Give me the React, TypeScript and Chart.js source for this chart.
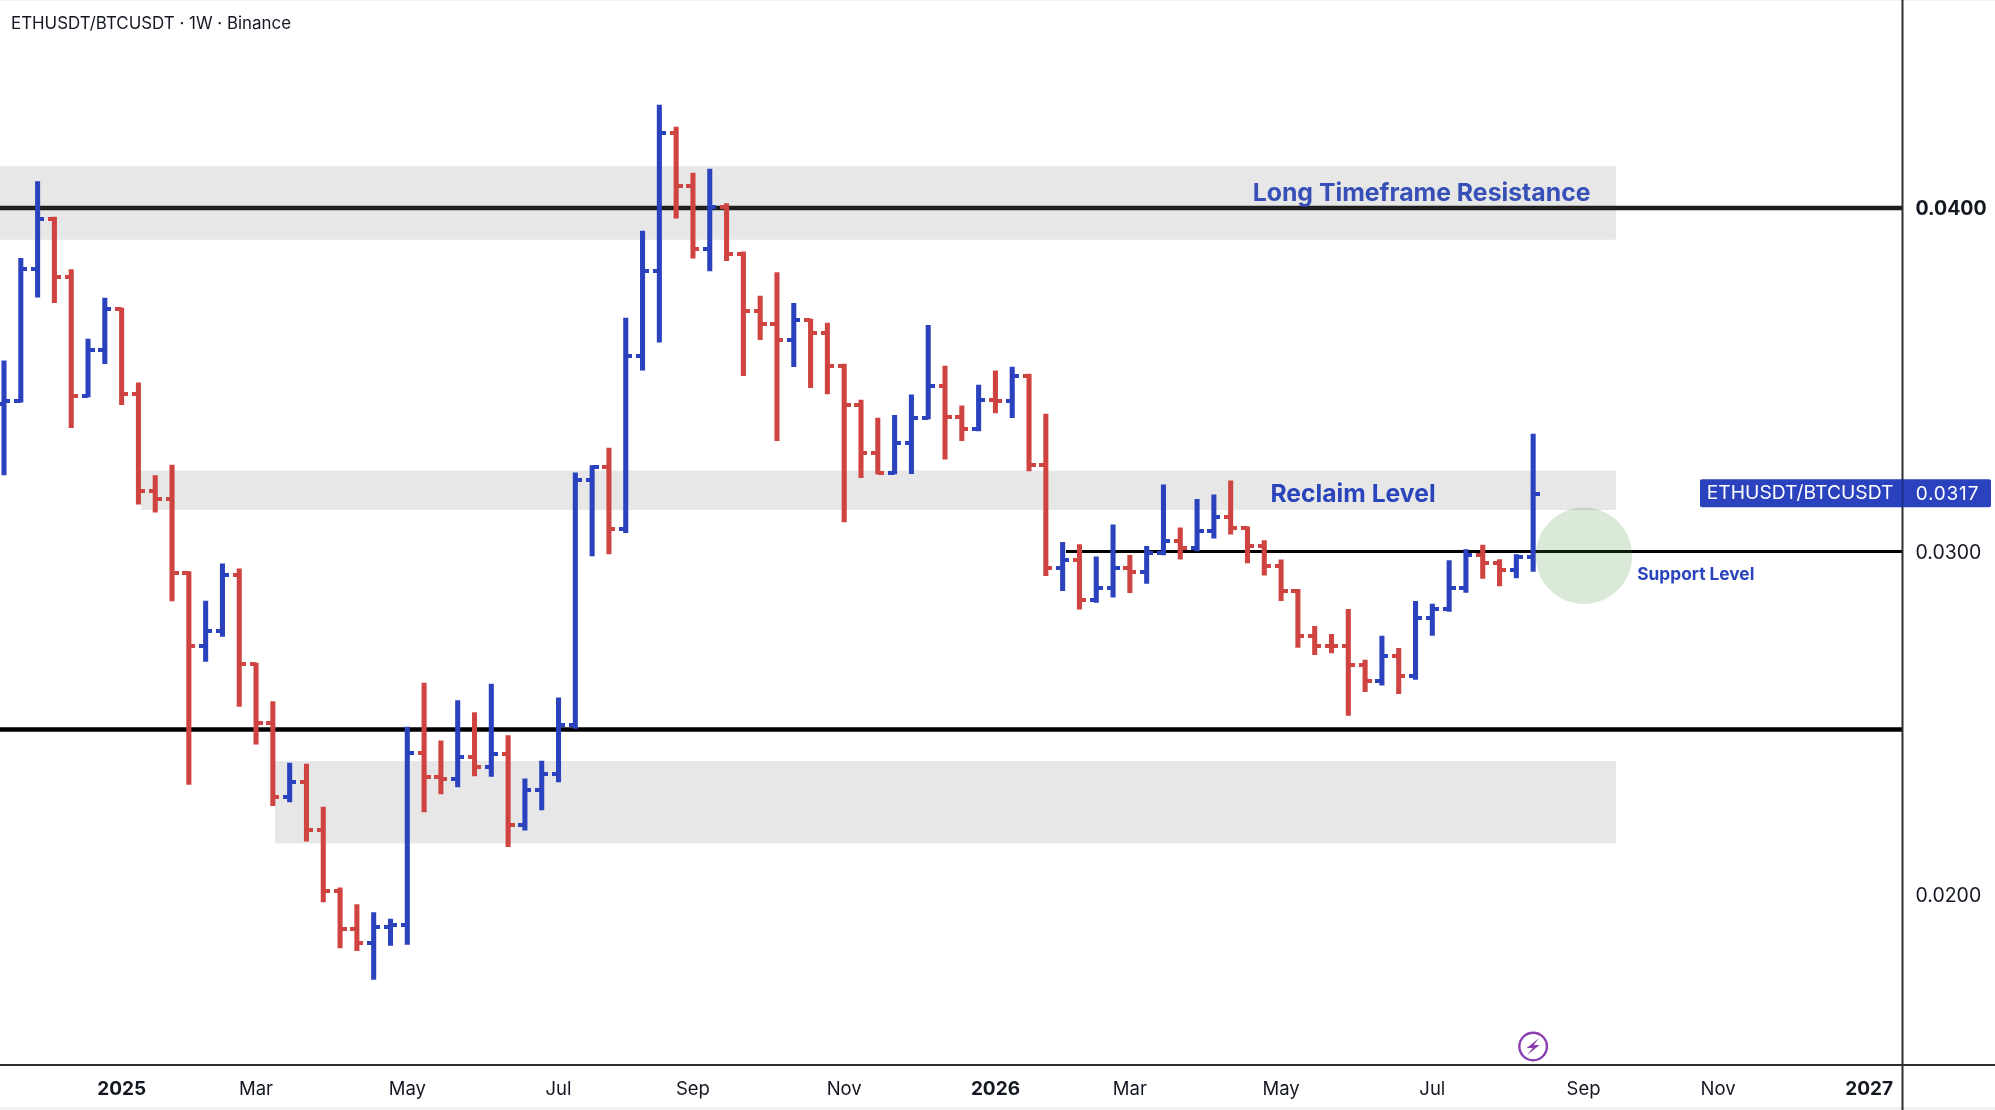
import React, { useEffect, useRef } from "react";
import { Chart, registerables } from "chart.js";

Chart.register(...registerables);

const WIDTH = 1995;
const HEIGHT = 1110;
const FONT = "Inter, 'Noto Sans', sans-serif";
const BLUE = "#2a42bd";
const RED = "#cf4440";

const opens = [
  0.03431, 0.03439, 0.03822, 0.03969, 0.03798, 0.03454, 0.03587, 0.03706, 0.0346, 0.03177,
  0.03153, 0.02937, 0.02724, 0.0277, 0.02932, 0.02672, 0.02502, 0.02284, 0.02329, 0.02189,
  0.02013, 0.01902, 0.01859, 0.01908, 0.01913, 0.02414, 0.02345, 0.02339, 0.02402, 0.02373,
  0.02411, 0.02203, 0.02306, 0.02351, 0.02494, 0.03207, 0.03247, 0.03065, 0.03569, 0.03817,
  0.0422, 0.04065, 0.03882, 0.04003, 0.03865, 0.037, 0.03662, 0.03617, 0.03673, 0.03635,
  0.0354, 0.03427, 0.03288, 0.03229, 0.03315, 0.0339, 0.03481, 0.03392, 0.03358, 0.03441,
  0.03437, 0.03511, 0.03252, 0.02951, 0.02974, 0.02859, 0.02895, 0.02951, 0.0294, 0.02995,
  0.0303, 0.03009, 0.03059, 0.031, 0.03068, 0.03015, 0.02958, 0.02886, 0.02753, 0.02726,
  0.02724, 0.02671, 0.02624, 0.02697, 0.02639, 0.02807, 0.02834, 0.02893, 0.0299, 0.02967,
  0.02946, 0.02984,
];
const highs = [
  0.03555, 0.03854, 0.04077, 0.03974, 0.03821, 0.03619, 0.03738, 0.03709, 0.03491, 0.03221,
  0.03252, 0.02942, 0.02856, 0.02964, 0.0295, 0.02675, 0.02563, 0.02384, 0.02381, 0.02256,
  0.02021, 0.01972, 0.01949, 0.0193, 0.02489, 0.02617, 0.02449, 0.02566, 0.02531, 0.02614,
  0.02464, 0.02338, 0.0239, 0.02574, 0.03229, 0.0325, 0.03301, 0.0368, 0.03933, 0.043,
  0.04236, 0.04102, 0.04114, 0.04013, 0.03873, 0.03744, 0.03812, 0.03723, 0.03677, 0.03665,
  0.03546, 0.03441, 0.03389, 0.03397, 0.03456, 0.03659, 0.0354, 0.03424, 0.03485, 0.03526,
  0.03537, 0.03517, 0.034, 0.03027, 0.0302, 0.02985, 0.03078, 0.02989, 0.03015, 0.03194,
  0.03069, 0.03152, 0.03165, 0.03206, 0.03072, 0.03032, 0.02976, 0.0289, 0.02782, 0.02759,
  0.02832, 0.02684, 0.02754, 0.02718, 0.02855, 0.02847, 0.02974, 0.03006, 0.03019, 0.02977,
  0.02991, 0.03342,
];
const lows = [
  0.03223, 0.03435, 0.03741, 0.03725, 0.03361, 0.0345, 0.03547, 0.03428, 0.03138, 0.03115,
  0.02856, 0.02322, 0.0268, 0.02753, 0.02549, 0.02439, 0.0226, 0.02271, 0.02157, 0.0198,
  0.01846, 0.01838, 0.01754, 0.01853, 0.01856, 0.02242, 0.02294, 0.02315, 0.02347, 0.02345,
  0.02141, 0.02189, 0.02248, 0.02329, 0.02485, 0.02987, 0.02993, 0.03055, 0.03528, 0.0361,
  0.03971, 0.03854, 0.03817, 0.03847, 0.03512, 0.03617, 0.03323, 0.03538, 0.03477, 0.03459,
  0.03086, 0.03215, 0.03226, 0.03226, 0.03227, 0.03386, 0.03269, 0.03323, 0.03351, 0.03404,
  0.0339, 0.03235, 0.0293, 0.02886, 0.02832, 0.02852, 0.02867, 0.0288, 0.02907, 0.0299,
  0.02978, 0.03002, 0.03039, 0.03051, 0.02967, 0.02931, 0.02857, 0.02721, 0.027, 0.02705,
  0.02523, 0.02592, 0.02611, 0.02586, 0.02628, 0.02756, 0.02826, 0.02881, 0.02922, 0.029,
  0.02923, 0.02942,
];
const closes = [
  0.03439, 0.03822, 0.03969, 0.03798, 0.03454, 0.03587, 0.03706, 0.0346, 0.03177, 0.03153,
  0.02937, 0.02724, 0.0277, 0.02932, 0.02672, 0.02502, 0.02284, 0.02329, 0.02189, 0.02013,
  0.01902, 0.01859, 0.01908, 0.01913, 0.02414, 0.02345, 0.02339, 0.02402, 0.02373, 0.02411,
  0.02203, 0.02306, 0.02351, 0.02494, 0.03207, 0.03247, 0.03065, 0.03569, 0.03817, 0.0422,
  0.04065, 0.03882, 0.04003, 0.03865, 0.037, 0.03662, 0.03617, 0.03673, 0.03635, 0.0354,
  0.03427, 0.03288, 0.03229, 0.03315, 0.0339, 0.03481, 0.03392, 0.03358, 0.03441, 0.03437,
  0.03511, 0.03252, 0.02951, 0.02974, 0.02859, 0.02895, 0.02951, 0.0294, 0.02995, 0.0303,
  0.03009, 0.03059, 0.031, 0.03068, 0.03015, 0.02958, 0.02886, 0.02753, 0.02726, 0.02724,
  0.02671, 0.02624, 0.02697, 0.02639, 0.02807, 0.02834, 0.02893, 0.0299, 0.02967, 0.02946,
  0.02984, 0.03168,
];

const xTickIndexes = [7, 15, 24, 33, 41, 50, 59, 67, 76, 85, 94, 102, 111];
const xTickLabels = ["2025", "Mar", "May", "Jul", "Sep", "Nov", "2026", "Mar", "May", "Jul", "Sep", "Nov", "2027"];
const yTickValues = [0.04, 0.03, 0.02];
const yTickLabels = ["0.0400", "0.0300", "0.0200"];
const lastPrice = 0.0317;

const X_MIN = -0.238;
const X_MAX = 112.98;
const Y_MIN = 0.01505;
const Y_MAX = 0.04606;

const zoneStarts = [X_MIN, 8.15, 16.13];
const zoneEnd = 95.93;
const zoneTops = [0.04122, 0.03236, 0.0239];
const zoneBottoms = [0.03908, 0.03121, 0.0215];

const tickImage = (color: string, side: "left" | "right") => {
  const c = document.createElement("canvas");
  c.width = 13;
  c.height = 4;
  const g = c.getContext("2d")!;
  g.fillStyle = color;
  g.fillRect(side === "left" ? 0 : 6.5, 0, 6.5, 4);
  return c;
};

const zonesPlugin = {
  id: "zones",
  beforeDatasetsDraw(chart: any) {
    const { ctx, scales } = chart;
    const { x, y } = scales;
    ctx.save();
    ctx.fillStyle = "#e7e7e7";
    zoneStarts.forEach((s, i) => {
      const x0 = x.getPixelForValue(s);
      const x1 = x.getPixelForValue(zoneEnd);
      const y0 = y.getPixelForValue(zoneTops[i]);
      const y1 = y.getPixelForValue(zoneBottoms[i]);
      ctx.fillRect(x0, y0, x1 - x0, y1 - y0);
    });
    ctx.restore();
  },
};

const overlayPlugin = {
  id: "overlay",
  afterDraw(chart: any) {
    const { ctx, scales, chartArea } = chart;
    const { x, y } = scales;
    ctx.save();

    // faint edge rows
    ctx.fillStyle = "#f1f1f1";
    ctx.fillRect(0, 0, WIDTH, 1);
    ctx.fillRect(0, HEIGHT - 3, WIDTH, 3);

    // axis frame
    ctx.fillStyle = "#2e2e2e";
    ctx.fillRect(0, chartArea.bottom - 1, WIDTH, 2);
    ctx.fillRect(chartArea.right - 1, 0, 2, HEIGHT);

    ctx.textBaseline = "alphabetic";
    ctx.textAlign = "left";

    // header
    ctx.fillStyle = "#131722";
    ctx.font = `400 16.9px ${FONT}`;
    ctx.fillText("ETHUSDT/BTCUSDT · 1W · Binance", 11, 28.5);

    // annotations
    ctx.fillStyle = "#3750b8";
    ctx.font = `700 24.8px ${FONT}`;
    ctx.fillText("Long Timeframe Resistance", 1252.7, 201);
    ctx.fillStyle = "#2a45bb";
    ctx.font = `700 24.7px ${FONT}`;
    ctx.fillText("Reclaim Level", 1270.4, 502);
    ctx.font = `700 17.3px ${FONT}`;
    ctx.fillText("Support Level", 1637.3, 580);

    // last price tag
    const py = y.getPixelForValue(lastPrice);
    ctx.fillStyle = BLUE;
    ctx.beginPath();
    ctx.roundRect(1700, py - 14, 291, 28, 2);
    ctx.fill();
    ctx.fillStyle = "#1d2f8c";
    ctx.fillRect(chartArea.right - 1, py - 14, 2, 28);
    ctx.fillStyle = "#ffffff";
    ctx.font = `400 19.3px ${FONT}`;
    ctx.textBaseline = "middle";
    ctx.fillText("ETHUSDT/BTCUSDT", 1706.7, py);
    ctx.font = `400 19px ${FONT}`;
    (ctx as any).letterSpacing = "0.8px";
    ctx.fillText(lastPrice.toFixed(4), 1915.7, py + 1);
    (ctx as any).letterSpacing = "0px";

    // lightning icon at the last bar
    const ix = x.getPixelForValue(opens.length - 1);
    const iy = 1046.5;
    ctx.strokeStyle = "#8a3fb0";
    ctx.lineWidth = 2.4;
    ctx.beginPath();
    ctx.arc(ix, iy, 13.8, 0, Math.PI * 2);
    ctx.stroke();
    ctx.fillStyle = "#8a3fb0";
    ctx.beginPath();
    ctx.moveTo(ix + 6, iy - 8.5);
    ctx.lineTo(ix - 6.5, iy + 1.5);
    ctx.lineTo(ix - 0.5, iy + 1.5);
    ctx.lineTo(ix - 6, iy + 8.5);
    ctx.lineTo(ix + 6.5, iy - 1.5);
    ctx.lineTo(ix + 0.5, iy - 1.5);
    ctx.closePath();
    ctx.fill();
    ctx.restore();
  },
};

export default function App() {
  const ref = useRef<HTMLCanvasElement>(null);

  useEffect(() => {
    const indexes = opens.map((_, i) => i);
    const colors = indexes.map((i) => (closes[i] >= opens[i] ? BLUE : RED));
    const leftTicks = { [BLUE]: tickImage(BLUE, "left"), [RED]: tickImage(RED, "left") };
    const rightTicks = { [BLUE]: tickImage(BLUE, "right"), [RED]: tickImage(RED, "right") };

    const chart = new Chart(ref.current!, {
      type: "bar",
      data: {
        datasets: [
          {
            type: "bubble",
            label: "Support marker",
            data: [{ x: 94.02, y: 0.02988, r: 48.2 }],
            backgroundColor: "rgba(76,150,60,0.2)",
            borderWidth: 0,
            order: 0,
            clip: false,
          },
          {
            type: "line",
            label: "Level 0.0400",
            data: [{ x: X_MIN, y: 0.04 }, { x: X_MAX, y: 0.04 }],
            borderColor: "#1e1e1e",
            borderWidth: 4.5,
            pointRadius: 0,
            order: 5,
          },
          {
            type: "line",
            label: "Level 0.0248",
            data: [{ x: X_MIN, y: 0.02482 }, { x: X_MAX, y: 0.02482 }],
            borderColor: "#000000",
            borderWidth: 4.5,
            pointRadius: 0,
            order: 5,
          },
          {
            type: "line",
            label: "Level 0.0300",
            data: [{ x: 63.2, y: 0.03 }, { x: X_MAX, y: 0.03 }],
            borderColor: "#000000",
            borderWidth: 3,
            pointRadius: 0,
            order: 5,
          },
          {
            type: "bar",
            label: "High-Low",
            data: indexes.map((i) => ({ x: i, y: [lows[i], highs[i]] })),
            backgroundColor: colors,
            barThickness: 4.4,
            borderWidth: 0,
            order: 3,
          },
          {
            type: "line",
            label: "Open",
            data: indexes.map((i) => ({ x: i, y: opens[i] })),
            showLine: false,
            pointRadius: 1,
            pointStyle: (c: any) => leftTicks[colors[c.dataIndex]],
            order: 2,
          },
          {
            type: "line",
            label: "Close",
            data: indexes.map((i) => ({ x: i, y: closes[i] })),
            showLine: false,
            pointRadius: 1,
            pointStyle: (c: any) => rightTicks[colors[c.dataIndex]],
            order: 2,
          },
        ],
      } as any,
      options: {
        responsive: false,
        animation: false,
        devicePixelRatio: 1,
        layout: { padding: 0, autoPadding: false },
        events: [],
        plugins: { legend: { display: false }, tooltip: { enabled: false }, title: { display: false } },
        scales: {
          x: {
            type: "linear",
            min: X_MIN,
            max: X_MAX,
            offset: false,
            grid: { display: false },
            border: { display: false },
            afterBuildTicks: (s: any) => {
              s.ticks = xTickIndexes.map((value) => ({ value }));
            },
            afterFit: (s: any) => {
              s.height = 45;
              s.paddingLeft = 0;
              s.paddingRight = 0;
              s.paddingTop = 0;
              s.paddingBottom = 0;
            },
            ticks: {
              autoSkip: false,
              maxRotation: 0,
              padding: 5,
              color: "#131722",
              callback: (v: any) => xTickLabels[xTickIndexes.indexOf(v)],
              font: (c: any) => {
                const label = xTickLabels[xTickIndexes.indexOf(c.tick?.value)] || "";
                return /^\d/.test(label)
                  ? { family: FONT, size: 19, weight: "700" }
                  : { family: FONT, size: 18.5, weight: "400" };
              },
            },
          },
          y: {
            type: "linear",
            position: "right",
            min: Y_MIN,
            max: Y_MAX,
            grid: { display: false },
            border: { display: false },
            afterBuildTicks: (s: any) => {
              s.ticks = yTickValues.map((value) => ({ value }));
            },
            afterFit: (s: any) => {
              s.width = 92.5;
              s.paddingLeft = 0;
              s.paddingRight = 0;
              s.paddingTop = 0;
              s.paddingBottom = 0;
            },
            ticks: {
              autoSkip: false,
              padding: 5,
              labelOffset: 1.5,
              color: "#131722",
              callback: (v: any) => yTickLabels[yTickValues.indexOf(v)],
              font: (c: any) =>
                c.tick?.value === 0.04
                  ? { family: FONT, size: 19.5, weight: "700" }
                  : { family: FONT, size: 19.5, weight: "400" },
            },
          },
        },
      } as any,
      plugins: [zonesPlugin, overlayPlugin],
    });
    return () => chart.destroy();
  }, []);

  return (
    <div style={{ position: "absolute", left: 0, top: 0, width: WIDTH, height: HEIGHT, background: "#fff" }}>
      <canvas ref={ref} width={WIDTH} height={HEIGHT} style={{ display: "block" }} />
    </div>
  );
}
